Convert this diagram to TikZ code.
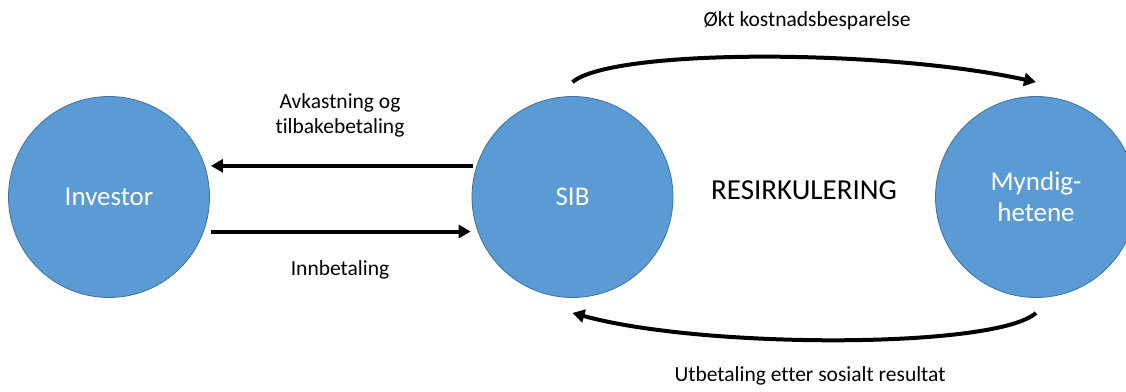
\documentclass[tikz,border=0pt]{standalone}
\usepackage{fontspec}
\setmainfont{Carlito}[Ligatures={NoCommon}]
\usetikzlibrary{arrows.meta}
\definecolor{ballblue}{HTML}{5B9BD5}
\definecolor{balledge}{HTML}{41719C}
\begin{document}
\begin{tikzpicture}[x=1pt,y=-1pt]
\tikzset{ball/.style={circle,fill=ballblue,draw=balledge,line width=0.8pt,minimum size=201pt,inner sep=0pt,
    text=white,align=center,font=\fontsize{27}{31}\selectfont},
  flow/.style={line width=4pt,-{Triangle[length=12pt,width=13pt]}},
  lbl/.style={align=center,font=\fontsize{21.5}{25}\selectfont}}
\useasboundingbox (0,0) rectangle (1126,391);
% the three parties
\node[ball] (inv) at (109,197) {Investor};
\node[ball] (sib) at (572.5,197) {SIB};
\node[ball] (myn) at (1036,197) {Myndig-\\hetene};
% money between investor and SIB
\draw[flow,shorten <=4pt,shorten >=6pt] (sib.162) -- (inv.18);
\draw[flow,shorten <=7pt,shorten >=7pt] (inv.-20.5) -- (sib.200.5);
\path node[lbl] (avk) at (340,115) {Avkastning og\\tilbakebetaling};
\path node[lbl] (innb) at (340,270) {Innbetaling};
% the loop
\coordinate (ta) at ([yshift=14pt]sib.north);
\coordinate (tb) at ([yshift=14pt]myn.north);
\coordinate (ba) at ([yshift=-15pt]myn.south);
\coordinate (bb) at ([yshift=-15pt]sib.south);
\draw[flow] (ta) .. controls +(40,-34) and +(-150,-33) .. (tb);
\draw[flow] (ba) .. controls +(-40,36) and +(130,36) .. (bb);
\path node[lbl] (okt) at (807,21) {Økt kostnadsbesparelse};
\path node[lbl] (utb) at (810,376) {Utbetaling etter sosialt resultat};
\path node[font=\fontsize{29}{34}\selectfont] (resirk) at (804,190) {RESIRKULERING};
\end{tikzpicture}
\end{document}
